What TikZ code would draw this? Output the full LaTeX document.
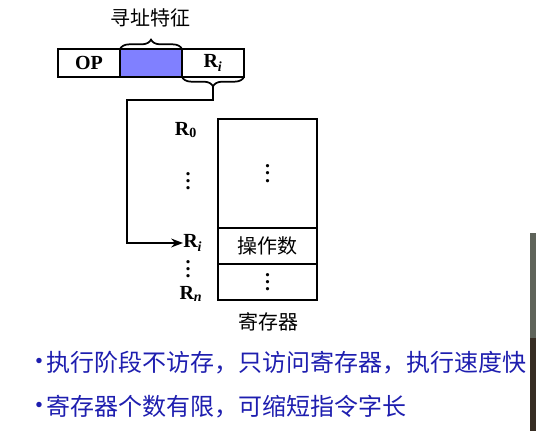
\documentclass[tikz,border=0pt]{standalone}
\usepackage{fontspec}
\setmainfont{Liberation Serif}
\newfontfamily\cjk{Noto Sans CJK SC}
\usepackage{tikz}
\usetikzlibrary{arrows.meta, positioning, decorations.pathreplacing, calc}
\definecolor{fieldblue}{RGB}{128,128,255}
\definecolor{textblue}{RGB}{30,30,175}
\definecolor{videogrey}{RGB}{95,100,90}
\definecolor{videodark}{RGB}{55,45,35}
\newcommand\regdots{\vbox{\baselineskip=5.5pt\lineskiplimit=0pt\hbox{.}\hbox{.}\hbox{.}}}

\tikzset{
  field/.style={draw, line width=1.3pt, minimum height=21pt, minimum width=46.5pt,
    inner sep=0pt, outer sep=0pt, font=\fontsize{15}{15}\selectfont\bfseries},
  regcell/.style={draw, line width=1.3pt, minimum width=74.25pt, inner sep=0pt, outer sep=0pt,
    font=\fontsize{15}{15}\selectfont\bfseries},
  reglabel/.style={font=\fontsize{15}{15}\selectfont\bfseries, inner sep=0pt},
  cjklabel/.style={font=\cjk\fontsize{15}{15}\selectfont, inner sep=0pt},
  bulletdot/.style={font=\fontsize{17}{17}\selectfont, text=textblue, inner sep=0pt},
  bullettext/.style={font=\cjk\fontsize{18}{18}\selectfont, text=textblue, anchor=west, inner sep=0pt},
  bracefield/.style={decorate, decoration={brace, amplitude=7pt}, line width=1.3pt},
}

\begin{document}
\begin{tikzpicture}[x=0.75pt, y=-0.75pt, >=Stealth]
  \useasboundingbox (0,0) rectangle (536,431);
  % Instruction word
  \node[field] (op) at (89,63) {OP};
  \node[field, fill=fieldblue, right=0pt of op] (ad) {};
  \node[field, right=0pt of ad] (ri) {R\textsubscript{\textit{i}}};
  \draw[bracefield] (ad.north west) -- (ad.north east);
  \node[cjklabel] (feat) at (150,18) {寻址特征};
  \draw[bracefield] (ri.south east) -- (ri.south west);
  \coordinate (tip) at ($(ri.south)+(0,9.5)$);
  % Register file
  \node[regcell, minimum height=81.75pt, anchor=north west] (top) at (218,119) {\regdots};
  \node[regcell, minimum height=27pt, below=0pt of top, font=\cjk\fontsize{15}{15}\selectfont] (opnd) {操作数};
  \node[regcell, minimum height=27pt, below=0pt of opnd] (bot) {\regdots};
  \node[cjklabel] (regname) at (268,322) {寄存器};
  % Register names
  \node[reglabel] (r0) at (186,130) {R\textsubscript{0}};
  \node[reglabel] (dotsa) at (188,181) {\regdots};
  \node[reglabel, anchor=west] (rlab) at (183,243) {R\textsubscript{\textit{i}}};
  \node[reglabel] (dotsb) at (188,269) {\regdots};
  \node[reglabel] (rn) at (191,294) {R\textsubscript{\textit{n}}};
  % Address path
  \coordinate (bend) at (127,100);
  \draw[->, line width=1.3pt] (tip) |- (bend) |- (rlab.west);
  % Notes
  \node[bulletdot] (dota) at (39,363) {•};
  \node[bullettext] (notea) at (46,363) {执行阶段不访存，只访问寄存器，执行速度快};
  \node[bulletdot] (dotb) at (39,407) {•};
  \node[bullettext] (noteb) at (46,407) {寄存器个数有限，可缩短指令字长};
  % Video overlay at the edge
  \fill[videogrey] (530,233) rectangle (536,338);
  \fill[videodark] (530,338) rectangle (536,431);
\end{tikzpicture}
\end{document}
